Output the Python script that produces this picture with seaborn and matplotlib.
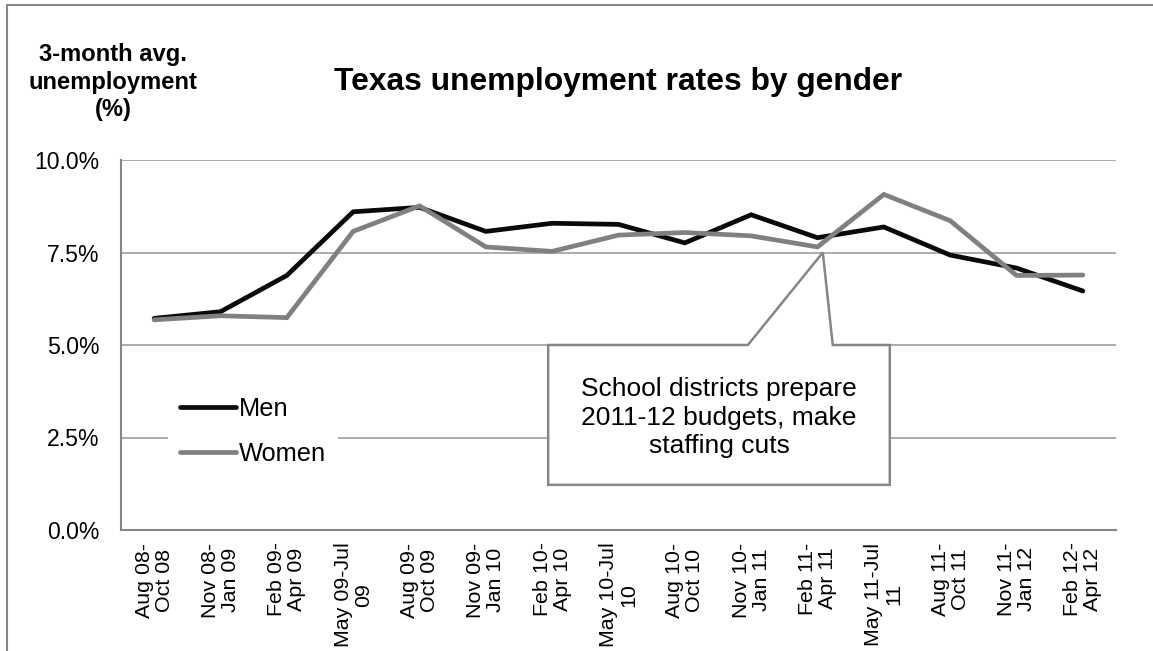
import numpy as np
import pandas as pd
import matplotlib
matplotlib.use("Agg")
import matplotlib.pyplot as plt
from matplotlib.patches import Polygon
from matplotlib.lines import Line2D
import seaborn as sns

# 3-month average unemployment rates (%) for Texas
periods = ["Aug 08-\nOct 08", "Nov 08-\nJan 09", "Feb 09-\nApr 09", "May 09-Jul\n09",
           "Aug 09-\nOct 09", "Nov 09-\nJan 10", "Feb 10-\nApr 10", "May 10-Jul\n10",
           "Aug 10-\nOct 10", "Nov 10-\nJan 11", "Feb 11-\nApr 11", "May 11-Jul\n11",
           "Aug 11-\nOct 11", "Nov 11-\nJan 12", "Feb 12-\nApr 12"]
men = [5.72, 5.90, 6.88, 8.60, 8.72, 8.07, 8.29, 8.26, 7.76, 8.52, 7.90, 8.19, 7.43, 7.08, 6.46]
women = [5.68, 5.79, 5.74, 8.07, 8.76, 7.65, 7.53, 7.97, 8.04, 7.95, 7.65, 9.07, 8.36, 6.88, 6.89]
y_ticks = [0.0, 2.5, 5.0, 7.5, 10.0]
series_colors = {"Men": "#0a0a0a", "Women": "#808080"}
note_text = "School districts prepare\n2011-12 budgets, make\nstaffing cuts"

sns.set_style("white")
plt.rcParams["font.family"] = ["Liberation Sans", "DejaVu Sans"]
plt.rcParams["text.color"] = "black"
plt.rcParams["xtick.labelcolor"] = "black"
plt.rcParams["ytick.labelcolor"] = "black"

W, H = 1153, 651
fig = plt.figure(figsize=(W / 100, H / 100), dpi=100)
ax = fig.add_axes([121 / W, 1 - 530 / H, (1116 - 121) / W, (530 - 160) / H])

pos = np.arange(len(periods))
df = pd.DataFrame({
    "pos": np.concatenate([pos, pos]),
    "rate": men + women,
    "gender": ["Men"] * len(men) + ["Women"] * len(women),
})

sns.lineplot(data=df, x="pos", y="rate", hue="gender", hue_order=["Men", "Women"],
             palette=series_colors, linewidth=3.4, legend=False, ax=ax,
             solid_capstyle="round", solid_joinstyle="miter")

# axes styling
ax.set_xlim(-0.5, len(periods) - 0.5)
ax.set_ylim(0, 10)
ax.set_axisbelow(True)
ax.yaxis.grid(True, color="#a6a6a6", lw=1.3)
ax.xaxis.grid(False)
for s in ["top", "right"]:
    ax.spines[s].set_visible(False)
for s in ["left", "bottom"]:
    ax.spines[s].set_color("#868686")
    ax.spines[s].set_linewidth(1.5)

ax.set_yticks(y_ticks)
ax.set_yticklabels([f"{v:.1f}%" for v in y_ticks], fontsize=16.6)
ax.tick_params(axis="y", length=5, width=1.3, color="#868686", pad=10.5, direction="out")

ax.set_xticks(pos)
ax.set_xticklabels(periods, rotation=90, ha="center", va="top", fontsize=15.4,
                   linespacing=1.08, multialignment="center")
ax.tick_params(axis="x", which="major", length=0, pad=9)
ax.set_xticks(np.arange(-0.5, len(periods)), minor=True)
ax.tick_params(axis="x", which="minor", length=5, width=1.3, color="#868686", direction="out")
ax.set_xlabel("")
ax.set_ylabel("")

# callout box with pointer
callout = Polygon([(5.94, 5.0), (8.95, 5.0), (10.08, 7.5), (10.23, 5.0), (11.09, 5.0),
                   (11.09, 1.22), (5.94, 1.22)], closed=True, facecolor="white",
                  edgecolor="#868686", lw=1.8, zorder=1.5)
ax.add_patch(callout)
ax.text((5.94 + 11.09) / 2, 3.03, note_text, ha="center", va="center", fontsize=19,
        linespacing=1.24, multialignment="center", zorder=3)

# legend
handles = [Line2D([], [], color=series_colors[g], lw=3.4, solid_capstyle="round")
           for g in ["Men", "Women"]]
leg = ax.legend(handles, ["Men", "Women"], loc="upper left",
                bbox_to_anchor=(168 / W, 1 - 385 / H), bbox_transform=fig.transFigure,
                frameon=True, facecolor="white", edgecolor="none", fancybox=False,
                fontsize=18.3, handlelength=2.2, handletextpad=0.12, labelspacing=0.8,
                borderpad=0.48, borderaxespad=0)
leg.get_frame().set_alpha(1)

# titles
fig.text(618.5 / W, 1 - 90 / H, "Texas unemployment rates by gender", ha="center",
         va="baseline", fontsize=22.9, fontweight="bold")
fig.text(113 / W, 1 - 43 / H, "3-month avg.\nunemployment\n(%)", ha="center", va="top",
         fontsize=17.1, fontweight="bold", linespacing=1.25, multialignment="center")

# outer chart border
fig.add_artist(Line2D([7 / W, 7 / W, 1], [0, 1 - 5 / H, 1 - 5 / H],
                      transform=fig.transFigure, color="#868686", lw=1.5))

fig.savefig("out.png", dpi=100)
